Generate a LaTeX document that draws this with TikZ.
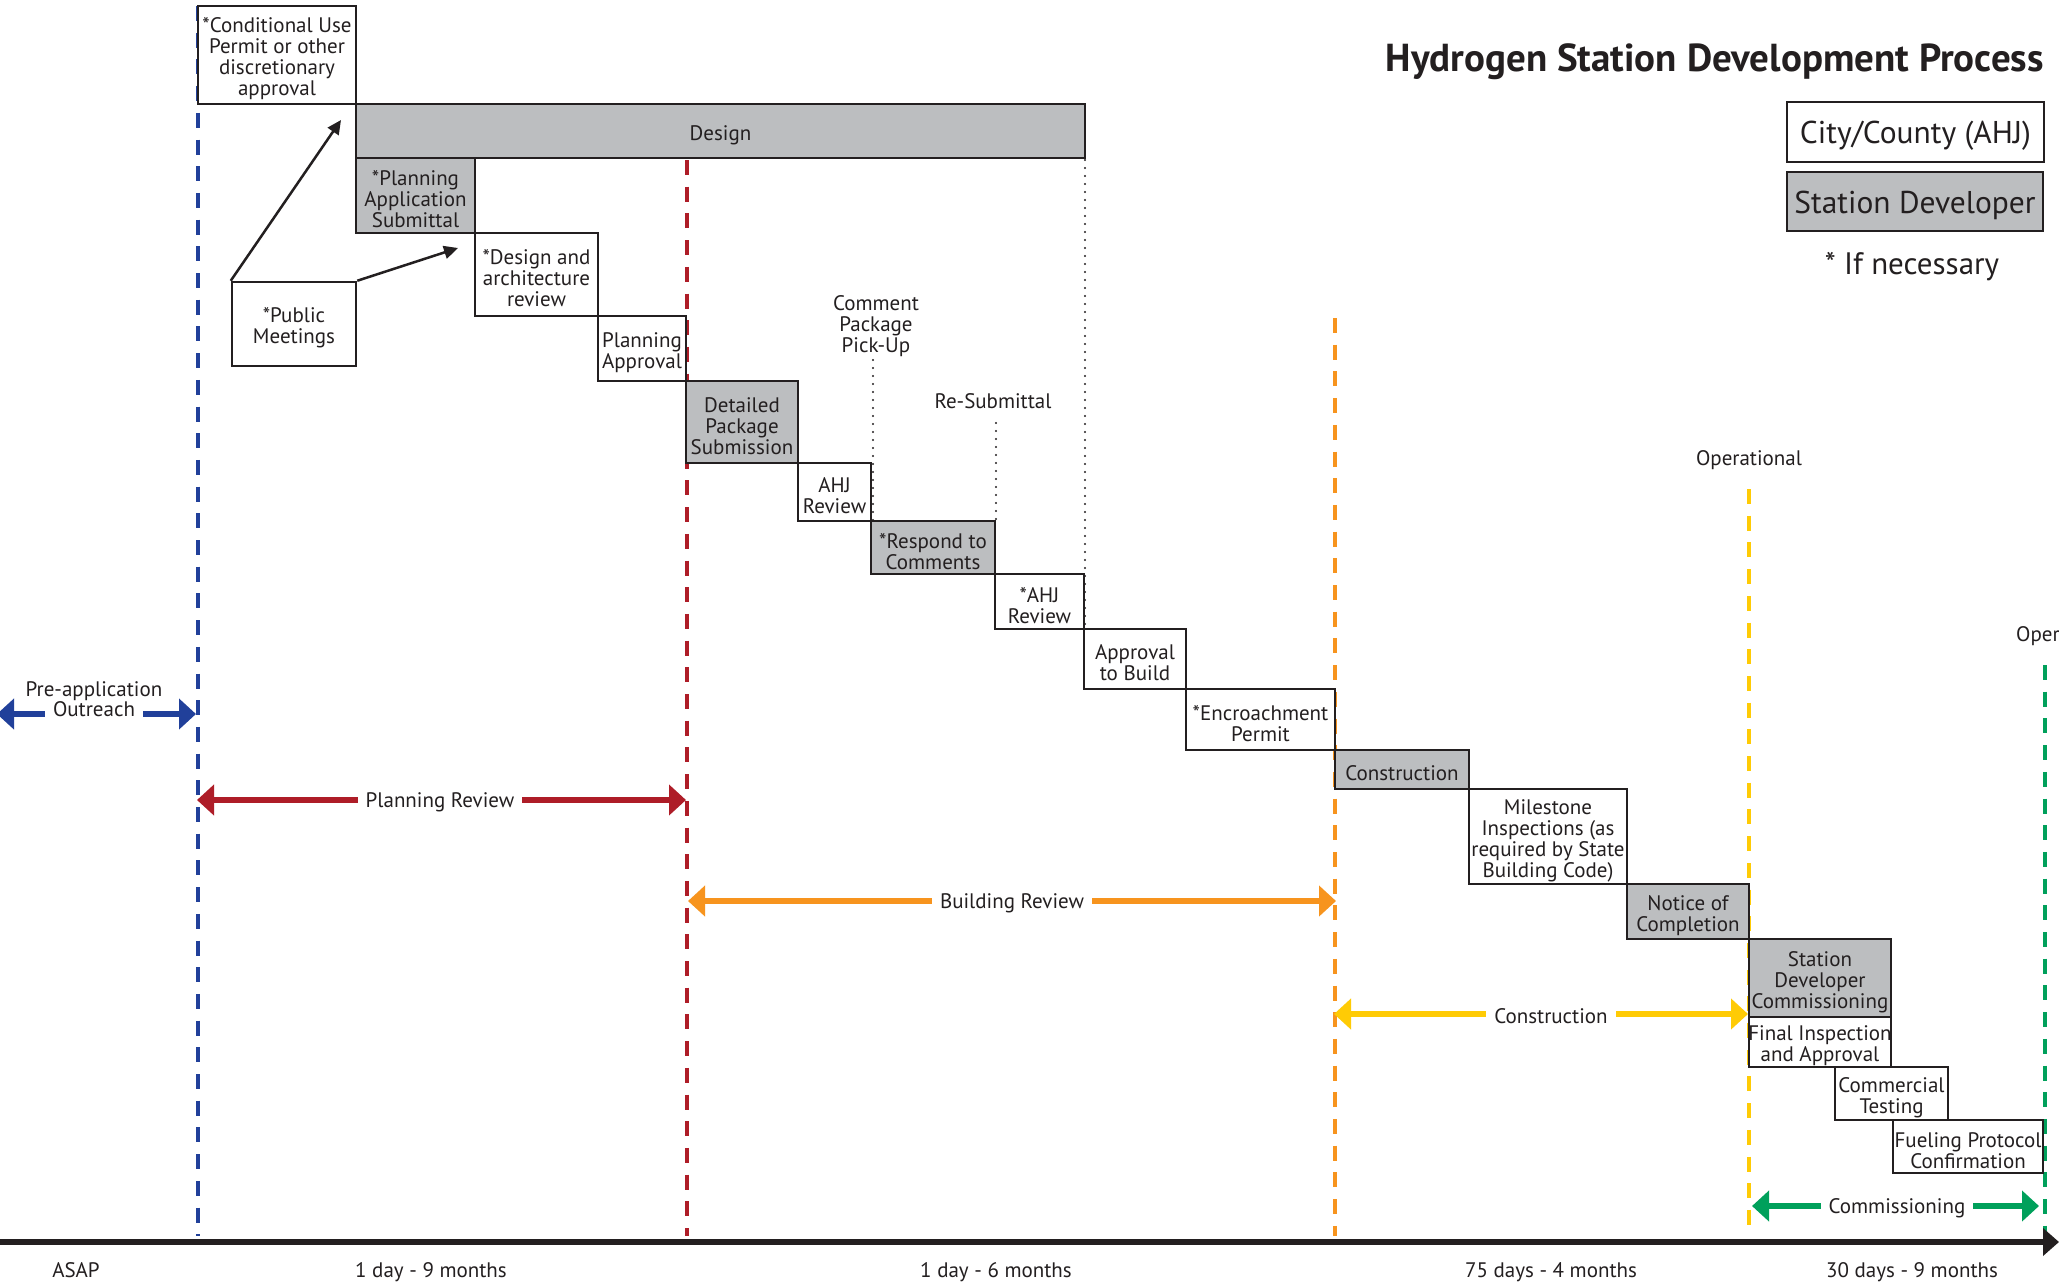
\documentclass[tikz,border=0pt]{standalone}
\usepackage{fontspec}
\setmainfont{PT Sans}
\usetikzlibrary{arrows.meta}
\definecolor{boxgray}{HTML}{BCBEC0}
\definecolor{ink}{HTML}{231F20}
\definecolor{pblue}{HTML}{21409A}
\definecolor{pred}{HTML}{AE1D28}
\definecolor{porange}{HTML}{F7941E}
\definecolor{pyellow}{HTML}{FFCB05}
\definecolor{pgreen}{HTML}{00A05B}
\begin{document}
\begin{tikzpicture}[x=1pt,y=-1pt,
  every node/.style={font=\fontsize{21}{21}\selectfont, align=center, inner sep=0pt, text=ink},
  wbox/.style={draw=ink, line width=2.5pt, fill=white, inner sep=0pt, align=center},
  gbox/.style={wbox, fill=boxgray},
  txt/.style={label={[yshift=-4pt]center:{#1}}},
  phase/.style={dash pattern=on 15pt off 11.7pt, line width=4.5pt},
  span/.style={line width=5.5pt, {Triangle[length=17pt,width=30pt]}-{Triangle[length=17pt,width=30pt]}},
  lbl/.style={fill=white, inner xsep=8pt, inner ysep=3pt, yshift=-2pt},
  dotline/.style={draw=ink, line width=2.2pt, dash pattern=on 0pt off 8pt, line cap=round},
  pointer/.style={draw=ink, line width=2.5pt, -{Triangle[length=14pt,width=13pt]}},
  axlabel/.style={anchor=base}
]
\useasboundingbox (0,0) rectangle (2059,1282);
\clip (0,0) rectangle (2059,1282);
\fill[white] (0,0) rectangle (2059,1282);

% phase boundary lines
\coordinate (b0) at (198,6);    \coordinate (b1) at (198,1236);
\coordinate (r0) at (687,160);  \coordinate (r1) at (687,1236);
\coordinate (o0) at (1335,318); \coordinate (o1) at (1335,1236);
\coordinate (y0) at (1749,489); \coordinate (y1) at (1749,1236);
\coordinate (g0) at (2045,665); \coordinate (g1) at (2045,1236);
\draw[phase, pblue] (b0) -- (b1);
\draw[phase, pred] (r0) -- (r1);
\draw[phase, porange] (o0) -- (o1);
\draw[phase, pyellow] (y0) -- (y1);
\draw[phase, pgreen] (g0) -- (g1);

% time axis
\coordinate (ax0) at (0,1242);
\coordinate (ax1) at (2059,1242);
\draw[line width=5.5pt, ink, -{Triangle[length=16pt,width=27pt]}] (ax0) -- (ax1);
\node[axlabel] (t0) at (76,1277) {ASAP};
\node[axlabel] (t1) at (431,1277) {1 day - 9 months};
\node[axlabel] (t2) at (996,1277) {1 day - 6 months};
\node[axlabel] (t3) at (1551,1277) {75 days - 4 months};
\node[axlabel] (t4) at (1912,1277) {30 days - 9 months};

% dotted guide lines
\coordinate (dc0) at (873,360);  \coordinate (dc1) at (873,521);
\coordinate (dr0) at (996,423);  \coordinate (dr1) at (996,521);
\coordinate (dd0) at (1085,160); \coordinate (dd1) at (1085,629);
\draw[dotline] (dc0) -- (dc1);
\draw[dotline] (dr0) -- (dr1);
\draw[dotline] (dd0) -- (dd1);

% process boxes
\node[wbox, minimum width=158pt, minimum height=98pt, txt={*Conditional Use\\Permit or other\\discretionary\\approval}] (cond) at (277,55) {};
\node[gbox, minimum width=729pt, minimum height=54pt, txt={Design}] (design) at (720.5,131) {};
\node[gbox, minimum width=119pt, minimum height=75pt, txt={*Planning\\Application\\Submittal}] (pas) at (415.5,195.5) {};
\node[wbox, minimum width=123pt, minimum height=83pt, txt={*Design and\\architecture\\review}] (dar) at (536.5,274.5) {};
\node[wbox, minimum width=88pt, minimum height=65pt, txt={Planning\\Approval}] (pa) at (642,348.5) {};
\node[wbox, minimum width=124pt, minimum height=84pt, txt={*Public\\Meetings}] (pub) at (294,324) {};
\node[gbox, minimum width=112pt, minimum height=82pt, txt={Detailed\\Package\\Submission}] (dps) at (742,422) {};
\node[wbox, minimum width=73pt, minimum height=58pt, txt={AHJ\\Review}] (ahja) at (834.5,492) {};
\node[gbox, minimum width=124pt, minimum height=53pt, txt={*Respond to\\Comments}] (resp) at (933,547.5) {};
\node[wbox, minimum width=89pt, minimum height=55pt, txt={*AHJ\\Review}] (ahjb) at (1039.5,601.5) {};
\node[wbox, minimum width=102pt, minimum height=60pt, txt={Approval\\to Build}] (atb) at (1135,659) {};
\node[wbox, minimum width=149pt, minimum height=61pt, txt={*Encroachment\\Permit}] (enc) at (1260.5,719.5) {};
\node[gbox, minimum width=134pt, minimum height=39pt, txt={Construction}] (cons) at (1402,769.5) {};
\node[wbox, minimum width=158pt, minimum height=95pt, txt={Milestone\\Inspections (as\\required by State\\Building Code)}] (mile) at (1548,836.5) {};
\node[gbox, minimum width=122pt, minimum height=55pt, txt={Notice of\\Completion}] (noc) at (1688,911.5) {};
\node[gbox, minimum width=142pt, minimum height=78pt, txt={Station\\Developer\\Commissioning}] (sdc) at (1820,978) {};
\node[wbox, minimum width=142pt, minimum height=50pt, txt={Final Inspection\\and Approval}] (fia) at (1820,1042) {};
\node[wbox, minimum width=113pt, minimum height=53pt, txt={Commercial\\Testing}] (ct) at (1891.5,1093.5) {};
\node[wbox, minimum width=150pt, minimum height=53pt, txt={Fueling Protocol\\Confirmation}] (fpc) at (1968,1146.5) {};

% public meetings pointers
\coordinate (pt1) at (341,120);
\coordinate (pt2) at (458,248);
\draw[pointer] (pub.north west) -- (pt1);
\draw[pointer] (pub.north east) -- (pt2);

% free labels
\node (cpp) at (876,326) {Comment\\Package\\Pick-Up};
\node[anchor=base] (resub) at (993,408) {Re-Submittal};
\node[anchor=base] (op1) at (1749,465) {Operational};
\node[anchor=base west] (op2) at (2016,641) {Operational};

% phase spans
\coordinate (pre0) at (-3,714);  \coordinate (pre1) at (196,714);
\coordinate (pl0) at (197,800);  \coordinate (pl1) at (686,800);
\coordinate (bu0) at (688,901);  \coordinate (bu1) at (1336,901);
\coordinate (co0) at (1334,1014); \coordinate (co1) at (1748,1014);
\coordinate (cm0) at (1752,1206); \coordinate (cm1) at (2039,1206);
\draw[span, pblue] (pre0) -- (pre1);
\draw[span, pred] (pl0) -- (pl1);
\draw[span, porange] (bu0) -- (bu1);
\draw[span, pyellow] (co0) -- (co1);
\draw[span, pgreen] (cm0) -- (cm1);
\node[fill=white, inner xsep=8pt, inner ysep=1pt, anchor=base] (outlbl) at (94,716) {Outreach};
\node[anchor=base] (prelbl) at (94,696) {Pre-application};
\node[lbl] (pllbl) at (440,800) {Planning Review};
\node[lbl] (bulbl) at (1012,901) {Building Review};
\node[lbl] (colbl) at (1551,1014) {Construction};
\node[lbl] (cmlbl) at (1897,1206) {Commissioning};

% title and legend
\node[anchor=base east, font=\fontsize{39}{42}\selectfont\bfseries] (title) at (2044,71) {Hydrogen Station Development Process};
\node[wbox, minimum width=257pt, minimum height=60pt, font=\fontsize{31.5}{33}\selectfont, label={[yshift=-4pt, font=\fontsize{31.5}{33}\selectfont]center:City/County (AHJ)}] (legc) at (1915.5,132) {};
\node[gbox, minimum width=256pt, minimum height=59pt, font=\fontsize{31.5}{33}\selectfont, label={[yshift=-4pt, font=\fontsize{31.5}{33}\selectfont]center:Station Developer}] (legd) at (1915,201.5) {};
\node[anchor=base, font=\fontsize{31}{33}\selectfont] (legn) at (1912,274) {* If necessary};
\end{tikzpicture}
\end{document}
